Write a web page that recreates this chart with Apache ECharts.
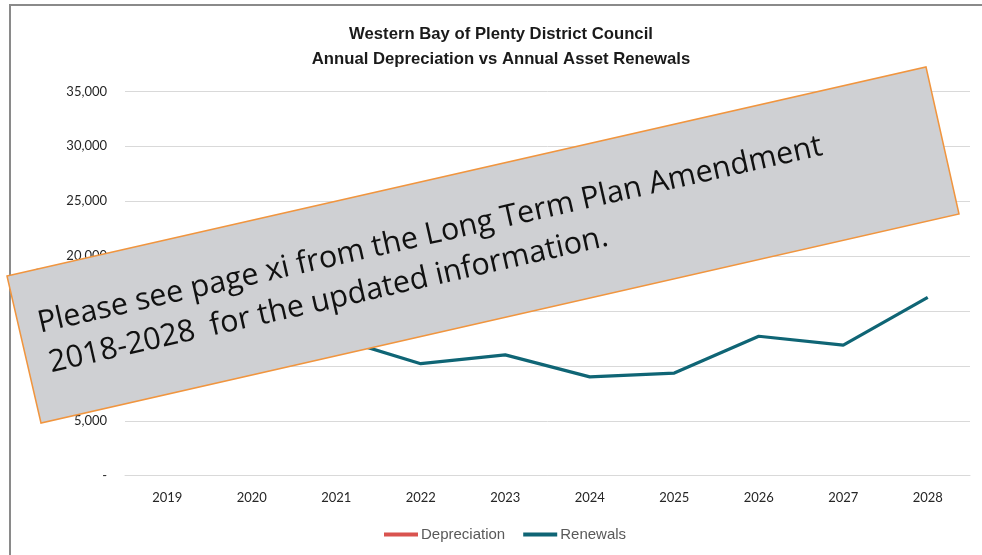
<!DOCTYPE html>
<html>
<head>
<meta charset="utf-8">
<script src="https://cdn.jsdelivr.net/npm/echarts@6/dist/echarts.min.js"></script>
<style>
html,body{margin:0;padding:0;background:#fff;}
#chart{width:982px;height:555px;}
</style>
</head>
<body>
<div id="chart"></div>
<script>
const titleLines = ['Western Bay of Plenty District Council', 'Annual Depreciation vs Annual Asset Renewals'];
const categories = ['2019', '2020', '2021', '2022', '2023', '2024', '2025', '2026', '2027', '2028'];
const depreciation = [17500, 18500, 19800, 20500, 21500, 22600, 23500, 24800, 25600, 27000];
const renewals = [11500, 13000, 12550, 10200, 11000, 9000, 9350, 12700, 11900, 16250];
const yTicks = [0, 5000, 10000, 15000, 20000, 25000, 30000, 35000];
const noticeLines = ['Please see page xi from the Long Term Plan Amendment', '2018-2028  for the updated information.'];

const chart = echarts.init(document.getElementById('chart'), null, {renderer: 'canvas'});
const ang = 0.2234;
const option = {
  backgroundColor: '#ffffff',
  animation: false,
  title: {
    text: titleLines.join('\n'),
    left: 496,
    textAlign: 'center',
    top: 17,
    textStyle: {fontFamily: 'Liberation Sans', fontWeight: 'bold', fontSize: 16.7, color: '#1a1a1a', lineHeight: 25}
  },
  legend: {
    left: 379,
    top: 522,
    icon: 'rect',
    itemWidth: 34,
    itemHeight: 4,
    itemGap: 18,
    textStyle: {fontFamily: 'Liberation Sans', fontSize: 15, color: '#595959', padding: [0, 0, 0, -2]},
    data: ['Depreciation', 'Renewals']
  },
  grid: {left: 125, right: 12, top: 91.4, bottom: 79.3},
  xAxis: {
    type: 'category',
    data: categories,
    boundaryGap: true,
    axisLine: {show: true, lineStyle: {color: '#d9d9d9', width: 1}},
    axisTick: {show: false},
    axisLabel: {margin: 16, fontFamily: 'Lato', fontSize: 13, color: '#262626'}
  },
  yAxis: {
    type: 'value',
    min: yTicks[0],
    max: yTicks[yTicks.length - 1],
    interval: yTicks[1] - yTicks[0],
    name: '$000',
    nameLocation: 'middle',
    nameRotate: 90,
    nameGap: 80,
    nameTextStyle: {fontFamily: 'Lato', fontSize: 13, color: '#000'},
    axisLine: {show: false},
    axisTick: {show: false},
    splitLine: {lineStyle: {color: '#d9d9d9', width: 1}},
    axisLabel: {
      margin: 18,
      fontFamily: 'Lato', fontSize: 13, color: '#262626',
      formatter: v => v === 0 ? '-' : v.toLocaleString('en-US')
    }
  },
  series: [
    {name: 'Depreciation', type: 'line', data: depreciation, symbol: 'none',
     lineStyle: {color: '#d9534f', width: 3}, itemStyle: {color: '#d9534f'}},
    {name: 'Renewals', type: 'line', data: renewals, symbol: 'none',
     lineStyle: {color: '#0f6575', width: 3.2}, itemStyle: {color: '#0f6575'}}
  ],
  graphic: [
    {type: 'rect', z: 0, silent: true, shape: {x: 10, y: 5, width: 1100, height: 700},
     style: {fill: 'none', stroke: '#8a8a8a', lineWidth: 2}},
    {type: 'polygon', z: 100, silent: true,
     shape: {points: [[7, 276], [926, 67], [959, 214], [41, 423]]},
     style: {fill: '#cfd0d3', stroke: '#f0953f', lineWidth: 1.5}},
    {type: 'group', z: 101, x: 40, y: 332, rotation: ang, children: [
      {type: 'text', z: 101, x: 0, y: -8,
       style: {text: noticeLines[0], font: '30.5px "Open Sans"', fill: '#111', textAlign: 'left', textVerticalAlign: 'middle'}},
      {type: 'text', z: 101, x: 2, y: 33,
       style: {text: noticeLines[1], font: '30.5px "Open Sans"', fill: '#111', textAlign: 'left', textVerticalAlign: 'middle'}}
    ]}
  ]
};
chart.setOption(option);
</script>
</body>
</html>
